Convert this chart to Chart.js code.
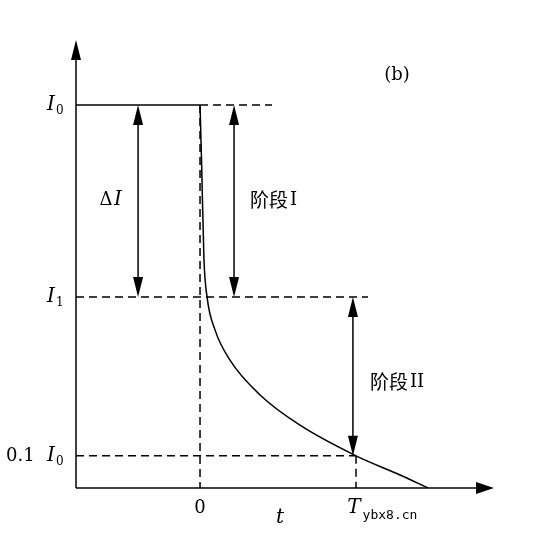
<!DOCTYPE html>
<html>
<head>
<meta charset="utf-8">
<script src="https://cdn.jsdelivr.net/npm/chart.js@4/dist/chart.umd.min.js"></script>
<style>
  body { margin: 0; background: #fff; }
  #wrap { width: 535px; height: 546px; }
</style>
</head>
<body>
<div id="wrap"><canvas id="c"></canvas></div>
<script>
// t in units of T, current in units of I0
const curveT = [0, 0.01, 0.025, 0.045, 0.096, 0.192, 0.385, 0.641, 1, 1.282, 1.462];
const curveI = [1, 0.85, 0.6, 0.499, 0.413, 0.334, 0.243, 0.164, 0.084, 0.034, 0];
const levels = { I0: 1, I1: 0.499, tenth: 0.084 };

const drawing = {
  id: 'drawing',
  afterDatasetsDraw(chart) {
    const ctx = chart.ctx;
    const x = chart.scales.x, y = chart.scales.y;
    const px = v => x.getPixelForValue(v), py = v => y.getPixelForValue(v);
    const left = px(x.min), bottom = py(0);
    ctx.save();
    ctx.strokeStyle = '#000';
    ctx.fillStyle = '#000';
    ctx.lineWidth = 1.5;

    const line = (x1, y1, x2, y2, dash) => {
      ctx.setLineDash(dash ? [8, 5] : []);
      ctx.beginPath(); ctx.moveTo(x1, y1); ctx.lineTo(x2, y2); ctx.stroke();
    };
    const head = (xx, yy, dir) => {
      ctx.setLineDash([]);
      ctx.beginPath();
      if (dir === 'up') { ctx.moveTo(xx, yy); ctx.lineTo(xx - 5, yy + 20); ctx.lineTo(xx + 5, yy + 20); }
      if (dir === 'down') { ctx.moveTo(xx, yy); ctx.lineTo(xx - 5, yy - 20); ctx.lineTo(xx + 5, yy - 20); }
      if (dir === 'right') { ctx.moveTo(xx, yy); ctx.lineTo(xx - 18, yy - 6); ctx.lineTo(xx - 18, yy + 6); }
      ctx.closePath(); ctx.fill();
    };
    const dbl = (t, a, b) => {
      const xx = px(t);
      line(xx, py(a) + 10, xx, py(b) - 10, false);
      head(xx, py(a), 'up'); head(xx, py(b), 'down');
    };

    line(left, bottom, 476, bottom, false); head(494, bottom, 'right');
    line(left, bottom, left, 50, false); head(left, 40, 'up');

    line(left, py(levels.I0), px(0), py(levels.I0), false);
    line(px(0), py(levels.I0), 272, py(levels.I0), true);
    line(left, py(levels.I1), 368, py(levels.I1), true);
    line(left, py(levels.tenth), px(1), py(levels.tenth), true);
    line(px(0), py(levels.I0), px(0), bottom, true);
    line(px(1), py(levels.tenth), px(1), bottom, true);

    dbl(-0.397, levels.I0, levels.I1);
    dbl(0.218, levels.I0, levels.I1);
    dbl(0.98, levels.I1, levels.tenth);

    const txt = (s, xx, yy, font, align) => {
      ctx.font = font; ctx.textAlign = align || 'center'; ctx.textBaseline = 'middle';
      ctx.fillText(s, xx, yy);
    };
    const it = 'italic 20px "DejaVu Serif", serif';
    const rm = '18px "DejaVu Serif", serif';
    const sub = '12px "DejaVu Serif", serif';
    txt('I', 51, py(levels.I0), it); txt('0', 56, py(levels.I0) + 6, sub, 'left');
    txt('I', 51, py(levels.I1), it); txt('1', 56, py(levels.I1) + 6, sub, 'left');
    txt('0.1', 6, py(levels.tenth), rm, 'left'); txt('I', 51, py(levels.tenth), it);
    txt('0', 56, py(levels.tenth) + 6, sub, 'left');
    txt('0', px(0), 508, rm);
    txt('t', 280, 518, it);
    txt('T', px(1) - 2, 508, it);
    txt('ybx8.cn', 390, 516, '13px "DejaVu Sans Mono", monospace');
    txt('(b)', 397, 75, rm);
    txt('Δ', 106, 200, rm); txt('I', 118, 200, it);
    txt('阶段', 250, 200, '19px "Noto Sans CJK SC"', 'left'); txt('I', 290, 200, rm, 'left');
    txt('阶段', 370, 382, '19px "Noto Sans CJK SC"', 'left'); txt('II', 410, 382, rm, 'left');
    ctx.restore();
  }
};

new Chart(document.getElementById('c'), {
  type: 'scatter',
  data: {
    datasets: [{
      data: curveT.map((t, i) => ({ x: t, y: curveI[i] })),
      showLine: true,
      borderColor: '#000',
      borderWidth: 1.5,
      pointRadius: 0,
      cubicInterpolationMode: 'monotone'
    }]
  },
  options: {
    responsive: true,
    maintainAspectRatio: false,
    animation: false,
    layout: { padding: { left: 76, right: 42, top: 40, bottom: 58 } },
    plugins: { legend: { display: false }, tooltip: { enabled: false } },
    scales: {
      x: { type: 'linear', min: -0.795, max: 1.878, display: false },
      y: { type: 'linear', min: 0, max: 1.17, display: false }
    }
  },
  plugins: [drawing]
});
</script>
</body>
</html>
